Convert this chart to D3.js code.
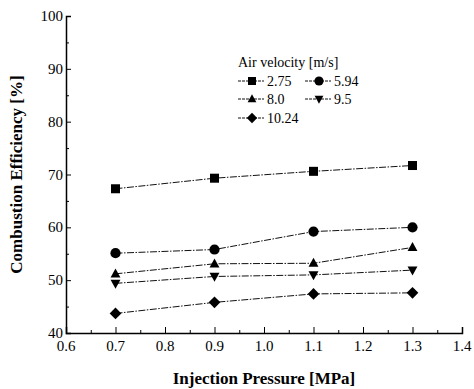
<!DOCTYPE html>
<html>
<head>
<meta charset="utf-8">
<script src="https://cdn.jsdelivr.net/npm/d3@7"></script>
<style>
  body { margin: 0; background: #fff; }
</style>
</head>
<body>
<script>
// Data
const pressures = [0.7, 0.9, 1.1, 1.3];
const velocities = ["2.75", "5.94", "8.0", "9.5", "10.24"];
const eff275 = [67.3, 69.3, 70.6, 71.7];
const eff594 = [55.1, 55.8, 59.2, 60.0];
const eff80 = [51.2, 53.1, 53.2, 56.2];
const eff95 = [49.4, 50.7, 51.0, 51.9];
const eff1024 = [43.7, 45.8, 47.4, 47.6];
const xTicks = [0.6, 0.7, 0.8, 0.9, 1.0, 1.1, 1.2, 1.3, 1.4];
const yTicks = [40, 50, 60, 70, 80, 90, 100];

const series = [eff275, eff594, eff80, eff95, eff1024];
const symbols = ["square", "circle", "up", "down", "diamond"];

const width = 474, height = 389;
const margin = { top: 16, right: 12, bottom: 56, left: 66 };
const serif = "Liberation Serif";

const svg = d3.select("body").append("svg")
    .attr("width", width)
    .attr("height", height);

const x = d3.scaleLinear().domain([0.6, 1.4]).range([margin.left, 462]);
const y = d3.scaleLinear().domain([40, 100]).range([333, margin.top]);

// Axes with inward ticks
const xAxis = svg.append("g")
    .attr("transform", `translate(0,${y(40)})`)
    .call(d3.axisTop(x).tickValues(xTicks).tickSize(6).tickFormat(""));
xAxis.select(".domain").attr("stroke-width", 1.5);
svg.append("g")
    .attr("transform", `translate(0,${y(40)})`)
    .call(d3.axisTop(x).tickValues(d3.range(0.65, 1.4, 0.1)).tickSize(3).tickFormat(""))
    .select(".domain").remove();
svg.selectAll(".xlab").data(xTicks).enter().append("text")
    .attr("x", d => x(d))
    .attr("y", y(40) + 18)
    .attr("text-anchor", "middle")
    .attr("font-family", serif)
    .attr("font-size", 15)
    .text(d => d.toFixed(1));

const yAxis = svg.append("g")
    .attr("transform", `translate(${margin.left},0)`)
    .call(d3.axisRight(y).tickValues(yTicks).tickSize(5).tickFormat(""));
yAxis.select(".domain").attr("stroke-width", 1.5);
svg.append("g")
    .attr("transform", `translate(${margin.left},0)`)
    .call(d3.axisRight(y).tickValues(d3.range(45, 100, 10)).tickSize(3).tickFormat(""))
    .select(".domain").remove();
svg.selectAll(".ylab").data(yTicks).enter().append("text")
    .attr("x", margin.left - 3)
    .attr("y", d => y(d) + 5)
    .attr("text-anchor", "end")
    .attr("font-family", serif)
    .attr("font-size", 15)
    .text(d => d);

// Axis titles
svg.append("text")
    .attr("x", x(1.0))
    .attr("y", 384)
    .attr("text-anchor", "middle")
    .attr("font-family", serif)
    .attr("font-size", 17)
    .attr("font-weight", "bold")
    .text("Injection Pressure [MPa]");
svg.append("text")
    .attr("transform", `translate(22,${y(70)}) rotate(-90)`)
    .attr("text-anchor", "middle")
    .attr("font-family", serif)
    .attr("font-size", 17)
    .attr("font-weight", "bold")
    .text("Combustion Efficiency [%]");

function marker(g, s, r) {
    if (s === "square") {
        g.append("rect").attr("x", -r).attr("y", -r).attr("width", 2 * r).attr("height", 2 * r);
    } else if (s === "circle") {
        g.append("circle").attr("r", r + 0.6);
    } else if (s === "up") {
        g.append("path").attr("d", `M0,${-r * 1.2}L${r * 1.1},${r * 0.8}L${-r * 1.1},${r * 0.8}Z`);
    } else if (s === "down") {
        g.append("path").attr("d", `M0,${r * 1.2}L${r * 1.1},${-r * 0.8}L${-r * 1.1},${-r * 0.8}Z`);
    } else {
        g.append("path").attr("d", `M0,${-r * 1.3}L${r * 1.3},0L0,${r * 1.3}L${-r * 1.3},0Z`);
    }
}

const line = d3.line().x((d, i) => x(pressures[i])).y(d => y(d));

series.forEach((vals, k) => {
    svg.append("path")
        .datum(vals)
        .attr("d", line)
        .attr("fill", "none")
        .attr("stroke", "#111")
        .attr("stroke-width", 1)
        .attr("stroke-dasharray", "7,1.5,1.5,1.5");
    vals.forEach((v, i) => {
        const g = svg.append("g").attr("transform", `translate(${x(pressures[i])},${y(v)})`);
        marker(g, symbols[k], 4.5);
    });
});

// Legend
const legend = svg.append("g").attr("font-size", 14).attr("font-family", serif);
legend.append("text").attr("x", 238).attr("y", 67).text("Air velocity [m/s]");
const legPos = [[238, 81], [305, 81], [238, 99], [305, 99], [238, 118]];
velocities.forEach((v, k) => {
    const [lx, ly] = legPos[k];
    legend.append("line")
        .attr("x1", lx).attr("x2", lx + 26)
        .attr("y1", ly).attr("y2", ly)
        .attr("stroke", "#111")
        .attr("stroke-dasharray", "3,1");
    const g = legend.append("g").attr("transform", `translate(${lx + 14},${ly})`);
    marker(g, symbols[k], 4);
    legend.append("text").attr("x", lx + 29).attr("y", ly + 5).text(v);
});
</script>
</body>
</html>
